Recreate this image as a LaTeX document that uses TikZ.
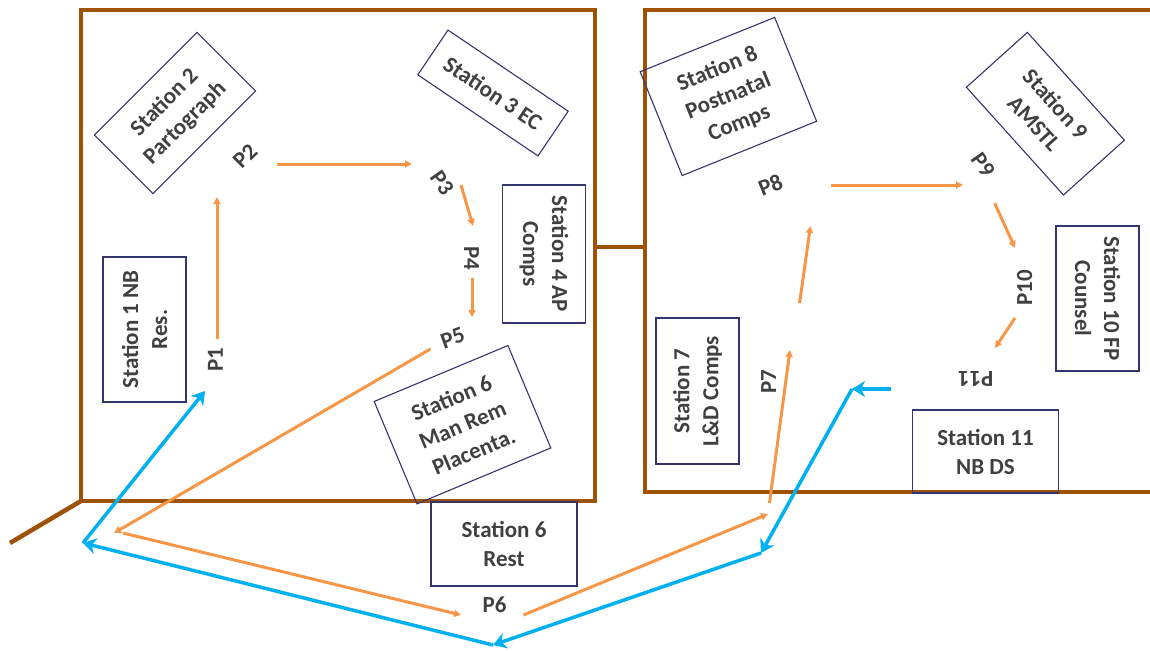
\documentclass[tikz,border=0pt]{standalone}
\usepackage{fontspec}
\setmainfont{Carlito}
\usetikzlibrary{arrows.meta}
\definecolor{wall}{HTML}{9E5206}
\definecolor{boxline}{HTML}{343470}
\definecolor{route}{HTML}{F79646}
\definecolor{exitpath}{HTML}{00B0F0}
\definecolor{ink}{HTML}{404040}

\begin{document}
\begin{tikzpicture}[x=1pt,y=-1pt,
  wallline/.style={draw=wall,line width=4.5pt},
  station/.style={draw=boxline,line width=1.1pt,align=center,text=ink,
    font=\fontsize{23}{29}\selectfont\bfseries,inner sep=0pt},
  plabel/.style={text=ink,font=\fontsize{23}{29}\selectfont\bfseries,inner sep=1pt},
  fwd/.style={draw=route,line width=3pt,-{Triangle[length=7pt,width=7pt]}},
  back/.style={draw=exitpath,line width=3.5pt,-{Stealth[length=13pt,width=16pt,inset=4pt]}},
]
\useasboundingbox (0,0) rectangle (1150,650);

% rooms and corridor walls
\draw[wallline] (81,10) rectangle (595,501);
\draw[wallline] (1160,10) -- (645,10) -- (645,492) -- (1160,492);
\draw[wallline] (595,247) -- (645,247);
\draw[wallline] (81,501) -- (10,543);

% stations
\node[station,minimum width=145pt,minimum height=83pt,rotate=90] (s1) at (144.5,329.5) {Station 1 NB\\Res.};
\node[station,minimum width=145pt,minimum height=83pt,rotate=45] (s2) at (175,113) {Station 2\\Partograph};
\node[station,minimum width=145pt,minimum height=54pt,rotate=-34] (s3) at (493,93) {Station 3 EC};
\node[station,minimum width=138pt,minimum height=83pt,rotate=-90] (s4) at (544,254) {Station 4 AP\\Comps};
\node[station,minimum width=145pt,minimum height=111pt,rotate=22.7] (s6m) at (462.5,424.7) {Station 6\\Man Rem\\Placenta.};
\node[station,minimum width=146pt,minimum height=84pt] (s6r) at (504,544) {Station 6\\Rest};
\node[station,minimum width=146pt,minimum height=83pt,rotate=90] (s7) at (697.5,391) {Station 7\\L\&D Comps};
\node[station,minimum width=145pt,minimum height=112pt,rotate=22] (s8) at (728.4,96.5) {Station 8\\Postnatal\\Comps};
\node[station,minimum width=145pt,minimum height=82pt,rotate=-48] (s9) at (1045.4,113.7) {Station 9\\AMSTL};
\node[station,minimum width=145pt,minimum height=83pt,rotate=-90] (s10) at (1097.5,298.5) {Station 10 FP\\Counsel};
\node[station,minimum width=146pt,minimum height=83pt] (s11) at (985.5,451.5) {Station 11\\NB DS};

% points
\node[plabel,rotate=90] (p1) at (215.5,360) {P1};
\node[plabel,rotate=45] (p2) at (245,156) {P2};
\node[plabel,rotate=-55] (p3) at (442,183) {P3};
\node[plabel,rotate=-90] (p4) at (471.5,258) {P4};
\node[plabel,rotate=20] (p5) at (452.7,338) {P5};
\node[plabel] (p6) at (494.5,605) {P6};
\node[plabel,rotate=90] (p7) at (768.6,381.7) {P7};
\node[plabel,rotate=22] (p8) at (770.4,185) {P8};
\node[plabel,rotate=-55] (p9) at (983,165) {P9};
\node[plabel,rotate=90] (p10) at (1024.6,288) {P10};
\node[plabel,rotate=180] (p11) at (975.7,379.3) {P11};

% ends of the forward route segments
\coordinate (o1a) at (217,339);   \coordinate (o1b) at (217,197);
\coordinate (o2a) at (277,164);   \coordinate (o2b) at (412,164);
\coordinate (o3a) at (461,185);   \coordinate (o3b) at (473,226);
\coordinate (o4a) at (472,278);   \coordinate (o4b) at (472,317);
\coordinate (o5a) at (430.5,349); \coordinate (o5b) at (114,533);
\coordinate (o6a) at (123,533);   \coordinate (o6b) at (461,615);
\coordinate (o7a) at (523.5,615); \coordinate (o7b) at (768,514);
\coordinate (o8a) at (769.5,503); \coordinate (o8b) at (790,350);
\coordinate (o9a) at (799.6,303); \coordinate (o9b) at (810.4,226);
\coordinate (o10a) at (831,185);  \coordinate (o10b) at (963,185);
\coordinate (o11a) at (994.6,203);\coordinate (o11b) at (1015,248);
\coordinate (o12a) at (1015,318); \coordinate (o12b) at (995,348);

\foreach \i in {1,...,12} \draw[fwd] (o\i a) -- (o\i b);

% corners of the return path
\coordinate (r0) at (891,389);
\coordinate (r1) at (852,389);
\coordinate (r2) at (761,553);
\coordinate (r3) at (493,645);
\coordinate (r4) at (83,543);
\coordinate (r5) at (205,391);

\draw[back] (r0) -- (r1);
\draw[back] (r1) -- (r2);
\draw[back] (r2) -- (r3);
\draw[back] (r3) -- (r4);
\draw[back] (r4) -- (r5);
\end{tikzpicture}
\end{document}
